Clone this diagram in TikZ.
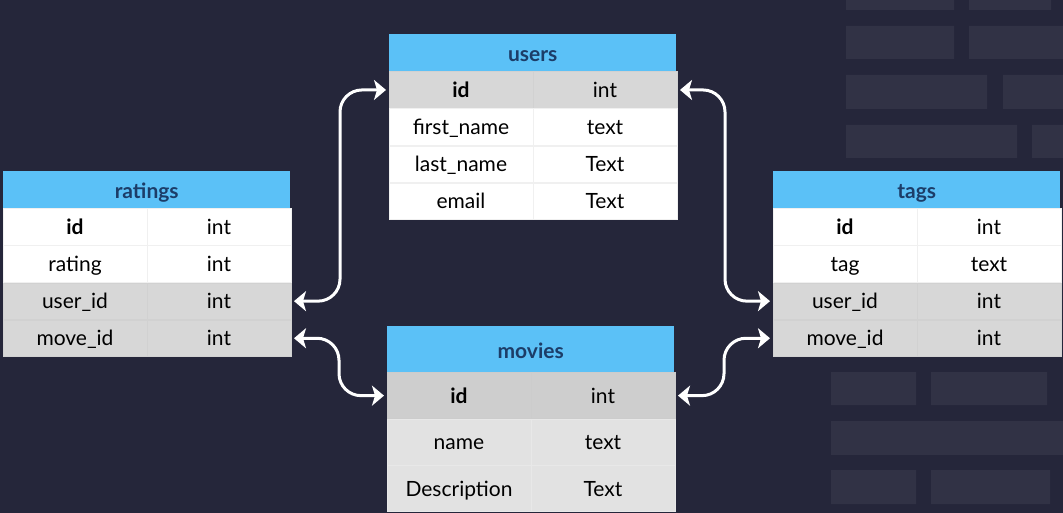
\documentclass[tikz,border=0pt]{standalone}
\usepackage{fontspec}
\setmainfont{Lato}
\usepackage{xcolor}
\usepackage{tikz}
\usetikzlibrary{arrows.meta,calc}

\definecolor{fondo}{HTML}{25263A}
\definecolor{bloque}{HTML}{313245}
\definecolor{cabecera}{HTML}{5BC1F7}
\definecolor{titulo}{HTML}{1C3D68}
\definecolor{gris}{HTML}{D7D7D7}
\definecolor{grisosc}{HTML}{CECECE}
\definecolor{grisclaro}{HTML}{E2E2E2}
\newcommand{\tam}{\fontsize{21}{25}\selectfont}

\begin{document}
\begin{tikzpicture}[x=1pt, y=-1pt,
        every node/.style={inner sep=0pt, anchor=north west, font=\tam},
        cabeza/.style={minimum width=287pt, minimum height=37pt, fill=cabecera, text=titulo, font=\tam\bfseries,
            text height=20pt, text depth=2pt},
        celda/.style={minimum width=143.5pt, minimum height=36.6pt, fill=white, draw=black!6, line width=0.5pt,
            text height=18pt, text depth=3pt},
        oscura/.style={fill=gris, draw=black!18},
        alta/.style={minimum height=46pt},
        flecha/.style={draw=white, line width=3pt, rounded corners=22pt, shorten <=3pt, shorten >=3pt,
            {Stealth[length=12pt,width=20pt,inset=3pt]}-{Stealth[length=12pt,width=20pt,inset=3pt]}}]
        % Fondo
        \useasboundingbox[fill=fondo] (0,0) rectangle (1063,513);
        \fill[bloque] (846,0) rectangle (954,10) (969,0) rectangle (1051,10);
        \fill[bloque] (846,26) rectangle (954,59) (969,26) rectangle (1063,59);
        \fill[bloque] (846,75) rectangle (987,109) (1003,75) rectangle (1063,109);
        \fill[bloque] (846,125) rectangle (1017,158) (1032,125) rectangle (1063,158);
        \fill[bloque] (831,372) rectangle (916,405) (931,372) rectangle (1047,405);
        \fill[bloque] (831,421) rectangle (1063,455);
        \fill[bloque] (831,470) rectangle (916,504) (931,470) rectangle (1050,504);

        % Usuarios (arriba)
        \node[cabeza] (uHead) at (389,34) {users};
        \node[celda, oscura] (uId) at (uHead.south west) {\textbf{id}};
        \node[celda, oscura] (uIdT) at (uId.north east) {int};
        \node[celda] (uFirst) at (uId.south west) {first\_name};
        \node[celda] (uFirstT) at (uFirst.north east) {text};
        \node[celda] (uLast) at (uFirst.south west) {last\_name};
        \node[celda] (uLastT) at (uLast.north east) {Text};
        \node[celda] (uMail) at (uLast.south west) {email};
        \node[celda] (uMailT) at (uMail.north east) {Text};

        % Ratings (izquierda)
        \node[cabeza] (rHead) at (3,171) {ratings};
        \node[celda] (rId) at (rHead.south west) {\textbf{id}};
        \node[celda] (rIdT) at (rId.north east) {int};
        \node[celda] (rRate) at (rId.south west) {rating};
        \node[celda] (rRateT) at (rRate.north east) {int};
        \node[celda, oscura] (rUser) at (rRate.south west) {user\_id};
        \node[celda, oscura] (rUserT) at (rUser.north east) {int};
        \node[celda, oscura] (rMove) at (rUser.south west) {move\_id};
        \node[celda, oscura] (rMoveT) at (rMove.north east) {int};

        % Tags (derecha)
        \node[cabeza] (tHead) at (773,171) {tags};
        \node[celda] (tId) at (tHead.south west) {\textbf{id}};
        \node[celda] (tIdT) at (tId.north east) {int};
        \node[celda] (tTag) at (tId.south west) {tag};
        \node[celda] (tTagT) at (tTag.north east) {text};
        \node[celda, oscura] (tUser) at (tTag.south west) {user\_id};
        \node[celda, oscura] (tUserT) at (tUser.north east) {int};
        \node[celda, oscura] (tMove) at (tUser.south west) {move\_id};
        \node[celda, oscura] (tMoveT) at (tMove.north east) {int};

        % Movies (abajo)
        \node[cabeza, alta] (mHead) at (387,326) {movies};
        \node[celda, alta, fill=grisosc, draw=black!20] (mId) at (mHead.south west) {\textbf{id}};
        \node[celda, alta, fill=grisosc, draw=black!20] (mIdT) at (mId.north east) {int};
        \node[celda, alta, fill=grisclaro, draw=black!9] (mName) at (mId.south west) {name};
        \node[celda, alta, fill=grisclaro, draw=black!9] (mNameT) at (mName.north east) {text};
        \node[celda, alta, fill=grisclaro, draw=black!9] (mDesc) at (mName.south west) {Description};
        \node[celda, alta, fill=grisclaro, draw=black!9] (mDescT) at (mDesc.north east) {Text};

        % Relaciones
        \coordinate (c1) at ($(rUserT.east)!0.5!(uId.west)$);
        \coordinate (c2) at ($(rMoveT.east)!0.5!(mId.west)$);
        \coordinate (c3) at ($(uIdT.east)!0.5!(tUser.west)$);
        \coordinate (c4) at ($(mIdT.east)!0.5!(tMove.west)$);
        \draw[flecha] (rUserT.east) -| (c1 |- uId.west) -- (uId.west);
        \draw[flecha] (rMoveT.east) -| (c2 |- mId.west) -- (mId.west);
        \draw[flecha] (uIdT.east) -| (c3 |- tUser.west) -- (tUser.west);
        \draw[flecha] (mIdT.east) -| (c4 |- tMove.west) -- (tMove.west);
    \end{tikzpicture}
\end{document}
